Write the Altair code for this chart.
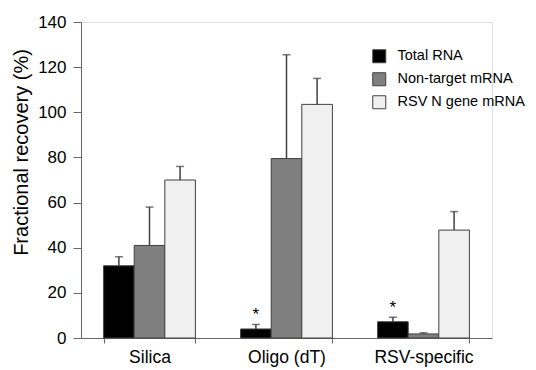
import altair as alt
import pandas as pd

groups = ["Silica", "Oligo (dT)", "RSV-specific"]
series = ["Total RNA", "Non-target mRNA", "RSV N gene mRNA"]
total_rna = [32.0, 4.0, 7.2]
total_rna_err = [4.0, 2.0, 2.0]
nontarget = [41.0, 79.5, 1.8]
nontarget_err = [17.0, 46.0, 0.5]
rsv_n = [70.0, 103.5, 47.8]
rsv_n_err = [6.0, 11.5, 8.2]
stars = ["", "*", "*"]
colors = ["#000000", "#7f7f7f", "#f0f0f0"]

rows = []
for vals, errs, s in [(total_rna, total_rna_err, series[0]),
                      (nontarget, nontarget_err, series[1]),
                      (rsv_n, rsv_n_err, series[2])]:
    for i, g in enumerate(groups):
        rows.append({
            "group": g, "series": s, "value": vals[i],
            "upper": vals[i] + errs[i],
            "star": stars[i] if s == series[0] else "",
        })
df = pd.DataFrame(rows)

FONT = "Liberation Sans"

x = alt.X("group:N", sort=groups, title=None,
          scale=alt.Scale(paddingInner=0.33, paddingOuter=0.165),
          axis=alt.Axis(labelAngle=0, tickBand="extent", tickSize=5,
                        labelFontSize=17.5, labelPadding=5, labelColor="#000",
                        domainColor="#666", tickColor="#666", labelFont=FONT))
xoff = alt.XOffset("series:N", sort=series)

base = alt.Chart(df)

bars = base.mark_bar(stroke="#404040", strokeWidth=1).encode(
    x=x, xOffset=xoff,
    y=alt.Y("value:Q", title="Fractional recovery (%)",
            scale=alt.Scale(domain=[0, 140], nice=False),
            axis=alt.Axis(values=list(range(0, 141, 20)), grid=False,
                          tickSize=8, labelPadding=7, labelFontSize=17,
                          titleFontSize=20, titleFontWeight="normal",
                          titleX=-50, titleY=130, titleAlign="center",
                          labelColor="#000", titleColor="#000",
                          domainColor="#666", tickColor="#666",
                          labelFont=FONT, titleFont=FONT)),
    color=alt.Color("series:N", sort=series, title=None,
                    scale=alt.Scale(domain=series, range=colors),
                    legend=alt.Legend(orient="none", legendX=291, legendY=27,
                                      symbolType="square", symbolSize=169,
                                      symbolStrokeColor="#404040", symbolStrokeWidth=1,
                                      labelFontSize=14.5, labelFont=FONT, labelColor="#000",
                                      rowPadding=5, labelOffset=11, labelLimit=300)),
)

err = base.mark_rule(color="#404040", strokeWidth=1.5).encode(
    x=x, xOffset=xoff, y="value:Q", y2="upper:Q")

caps = base.mark_tick(color="#404040", thickness=1.5, size=8, orient="horizontal").encode(
    x=x, xOffset=xoff, y="upper:Q")

star_text = base.mark_text(fontSize=17, font=FONT, dy=-9, color="#000").encode(
    x=x, xOffset=xoff, y="upper:Q", text="star:N")

chart = alt.layer(bars, err, caps, star_text).properties(
    width=411, height=316,
    autosize=alt.AutoSizeParams(type="none"),
    padding={"left": 73, "top": 14, "right": 36, "bottom": 30},
).configure_view(stroke=None).configure(background="white")

chart.save("out.html", embed_options={"renderer": "svg", "actions": False})
